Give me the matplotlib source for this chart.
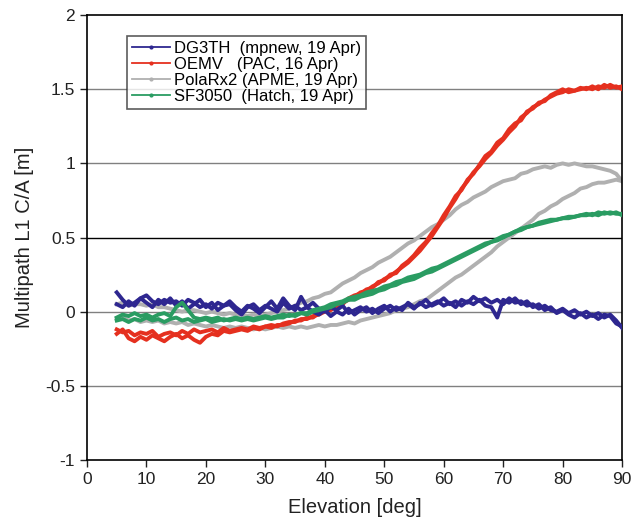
import numpy as np
import matplotlib.pyplot as plt
from matplotlib.lines import Line2D

plt.rcParams['font.family'] = ['Liberation Sans', 'DejaVu Sans']

elev = list(range(5, 91))

dg3th_a = [0.13, 0.08, 0.04, 0.06, 0.09, 0.11, 0.07, 0.05, 0.08, 0.06,
           0.07, 0.04, 0.08, 0.06, 0.03, 0.05, 0.02, 0.06, 0.04, 0.05,
           0.01, -0.02, 0.03, 0.05, 0.01, 0.04, 0.02, 0.00, 0.06, 0.02,
           0.04, 0.01, 0.03, 0.06, 0.02, 0.00, 0.03, 0.01, 0.04, -0.01,
           0.01, 0.03, 0.00, 0.02, -0.01, 0.02, 0.04, 0.01, 0.03, 0.05,
           0.02, 0.06, 0.03, 0.05, 0.07, 0.04, 0.06, 0.03, 0.08, 0.06,
           0.10, 0.07, 0.09, 0.06, 0.08, 0.05, 0.09, 0.06, 0.07, 0.04,
           0.05, 0.02, 0.04, 0.01, 0.00, 0.02, -0.01, 0.01, -0.02, 0.00,
           -0.03, -0.01, -0.04, -0.02, -0.06, -0.11]
dg3th_b = [0.05, 0.03, 0.07, 0.04, 0.09, 0.06, 0.03, 0.08, 0.05, 0.09,
           0.04, 0.07, 0.02, 0.05, 0.08, 0.03, 0.06, 0.01, 0.04, 0.07,
           0.03, 0.00, 0.04, 0.02, -0.01, 0.03, 0.07, 0.02, 0.09, 0.04,
           0.01, 0.10, 0.03, 0.00, -0.02, 0.01, -0.03, 0.00, -0.02, 0.02,
           -0.02, 0.01, 0.03, -0.01, 0.02, 0.04, 0.00, 0.03, 0.01, 0.06,
           0.03, 0.05, 0.08, 0.04, 0.06, 0.09, 0.05, 0.07, 0.04, 0.07,
           0.05, 0.08, 0.04, 0.03, -0.04, 0.08, 0.06, 0.09, 0.05, 0.07,
           0.03, 0.05, 0.01, 0.03, -0.01, 0.01, -0.02, -0.04, -0.01, -0.04,
           -0.02, -0.05, -0.02, -0.03, -0.08, -0.10]

oemv_a = [-0.12, -0.14, -0.13, -0.16, -0.14, -0.15, -0.13, -0.17, -0.15, -0.14,
          -0.16, -0.13, -0.15, -0.12, -0.14, -0.13, -0.12, -0.14, -0.11, -0.13,
          -0.12, -0.11, -0.12, -0.10, -0.11, -0.10, -0.09, -0.10, -0.08, -0.07,
          -0.07, -0.05, -0.05, -0.03, -0.02, 0.00, 0.02, 0.03, 0.06, 0.08,
          0.10, 0.13, 0.14, 0.17, 0.19, 0.22, 0.24, 0.27, 0.30, 0.33,
          0.37, 0.41, 0.46, 0.51, 0.57, 0.63, 0.70, 0.76, 0.83, 0.88,
          0.94, 0.98, 1.03, 1.07, 1.12, 1.16, 1.21, 1.25, 1.31, 1.34,
          1.38, 1.40, 1.43, 1.45, 1.47, 1.48, 1.50, 1.49, 1.50, 1.51,
          1.50, 1.52, 1.51, 1.53, 1.51, 1.52]
oemv_b = [-0.15, -0.12, -0.18, -0.20, -0.17, -0.19, -0.16, -0.18, -0.20, -0.17,
          -0.15, -0.18, -0.16, -0.19, -0.21, -0.17, -0.15, -0.16, -0.13, -0.14,
          -0.13, -0.12, -0.13, -0.11, -0.12, -0.10, -0.11, -0.09, -0.09, -0.08,
          -0.06, -0.06, -0.04, -0.04, -0.01, 0.01, 0.01, 0.04, 0.05, 0.09,
          0.11, 0.12, 0.15, 0.16, 0.20, 0.21, 0.25, 0.26, 0.31, 0.34,
          0.38, 0.43, 0.47, 0.53, 0.58, 0.65, 0.71, 0.78, 0.82, 0.89,
          0.93, 0.99, 1.05, 1.08, 1.14, 1.17, 1.23, 1.27, 1.29, 1.35,
          1.37, 1.41, 1.42, 1.46, 1.48, 1.50, 1.48, 1.49, 1.51, 1.50,
          1.52, 1.50, 1.53, 1.51, 1.52, 1.50]

polarx_a = [0.05, 0.06, 0.04, 0.05, 0.05, 0.04, 0.05, 0.03, 0.03, 0.02,
            0.01, 0.00, 0.01, 0.01, 0.00, -0.01, 0.00, -0.01, -0.02, -0.01,
            -0.02, -0.02, -0.03, -0.02, -0.03, -0.02, -0.01, 0.00, 0.01, 0.02,
            0.04, 0.06, 0.07, 0.09, 0.10, 0.12, 0.13, 0.16, 0.19, 0.21,
            0.23, 0.26, 0.28, 0.30, 0.33, 0.35, 0.37, 0.40, 0.43, 0.46,
            0.48, 0.51, 0.54, 0.57, 0.59, 0.62, 0.65, 0.69, 0.72, 0.74,
            0.77, 0.79, 0.81, 0.84, 0.86, 0.88, 0.89, 0.90, 0.93, 0.94,
            0.96, 0.97, 0.98, 0.97, 0.99, 1.00, 0.99, 1.00, 0.99, 0.98,
            0.98, 0.97, 0.96, 0.95, 0.93, 0.88]
polarx_b = [-0.05, -0.04, -0.06, -0.05, -0.07, -0.06, -0.07, -0.06, -0.08, -0.07,
            -0.08, -0.07, -0.09, -0.08, -0.09, -0.10, -0.09, -0.10, -0.11, -0.10,
            -0.11, -0.10, -0.11, -0.12, -0.11, -0.12, -0.11, -0.10, -0.11, -0.10,
            -0.11, -0.10, -0.11, -0.10, -0.09, -0.10, -0.09, -0.09, -0.08, -0.07,
            -0.08, -0.06, -0.05, -0.04, -0.03, -0.02, -0.01, 0.01, 0.02, 0.03,
            0.05, 0.07, 0.08, 0.11, 0.14, 0.17, 0.20, 0.23, 0.25, 0.28,
            0.31, 0.34, 0.37, 0.40, 0.44, 0.47, 0.50, 0.53, 0.56, 0.59,
            0.62, 0.66, 0.68, 0.71, 0.73, 0.76, 0.78, 0.80, 0.83, 0.84,
            0.86, 0.87, 0.87, 0.88, 0.89, 0.88]

sf3050_a = [-0.04, -0.02, -0.03, -0.01, -0.03, -0.02, -0.04, -0.02, -0.01, -0.03,
            0.03, 0.06, 0.01, -0.04, -0.05, -0.04, -0.05, -0.04, -0.06, -0.05,
            -0.04, -0.05, -0.04, -0.05, -0.04, -0.03, -0.04, -0.03, -0.02, -0.03,
            -0.02, -0.01, -0.02, 0.00, 0.01, 0.02, 0.03, 0.05, 0.06, 0.08,
            0.08, 0.10, 0.11, 0.12, 0.14, 0.15, 0.17, 0.18, 0.20, 0.21,
            0.22, 0.24, 0.26, 0.27, 0.29, 0.31, 0.33, 0.35, 0.37, 0.39,
            0.41, 0.43, 0.45, 0.47, 0.48, 0.50, 0.52, 0.54, 0.55, 0.57,
            0.58, 0.59, 0.60, 0.61, 0.62, 0.63, 0.63, 0.64, 0.65, 0.65,
            0.66, 0.65, 0.67, 0.66, 0.67, 0.65]
sf3050_b = [-0.06, -0.05, -0.07, -0.05, -0.06, -0.04, -0.06, -0.05, -0.07, -0.05,
            -0.04, -0.06, -0.05, -0.07, -0.06, -0.05, -0.07, -0.06, -0.05, -0.06,
            -0.05, -0.06, -0.05, -0.06, -0.05, -0.04, -0.05, -0.04, -0.04, -0.02,
            -0.03, -0.01, -0.01, 0.01, 0.02, 0.03, 0.05, 0.06, 0.07, 0.09,
            0.10, 0.11, 0.13, 0.14, 0.15, 0.17, 0.18, 0.20, 0.21, 0.23,
            0.24, 0.25, 0.27, 0.29, 0.30, 0.32, 0.34, 0.36, 0.38, 0.40,
            0.42, 0.44, 0.46, 0.47, 0.49, 0.51, 0.52, 0.54, 0.56, 0.57,
            0.58, 0.60, 0.61, 0.62, 0.62, 0.63, 0.64, 0.64, 0.65, 0.66,
            0.65, 0.67, 0.66, 0.67, 0.66, 0.66]

labels = ["DG3TH  (mpnew, 19 Apr)", "OEMV   (PAC, 16 Apr)",
          "PolaRx2 (APME, 19 Apr)", "SF3050  (Hatch, 19 Apr)"]
colors = ["#2e2790", "#e5301f", "#b0b0b0", "#2a9c62"]

fig = plt.figure(figsize=(6.42, 5.22), dpi=100)
ax = fig.add_axes([0.1355, 0.119, 0.8335, 0.852])

# gridlines
for yv in [-0.5, 0, 0.5, 1, 1.5]:
    ax.axhline(yv, color="black" if yv == 0.5 else "#808080", lw=1.0, zorder=1)

lw = 2.8
ax.plot(elev, polarx_a, color=colors[2], lw=lw, zorder=2)
ax.plot(elev, polarx_b, color=colors[2], lw=lw, zorder=2)
ax.plot(elev, oemv_a, color=colors[1], lw=lw, zorder=3)
ax.plot(elev, oemv_b, color=colors[1], lw=lw, zorder=3)
ax.plot(elev, dg3th_a, color=colors[0], lw=lw, zorder=4)
ax.plot(elev, dg3th_b, color=colors[0], lw=lw, zorder=4)
ax.plot(elev, sf3050_a, color=colors[3], lw=lw, zorder=5)
ax.plot(elev, sf3050_b, color=colors[3], lw=lw, zorder=5)

ax.set_xlim(0, 90)
ax.set_ylim(-1, 2)
ax.set_xticks(range(0, 91, 10))
ax.set_yticks([-1, -0.5, 0, 0.5, 1, 1.5, 2])
ax.set_yticklabels(["-1", "-0.5", "0", "0.5", "1", "1.5", "2"])
ax.tick_params(direction="out", length=5, width=1, labelsize=12.5, colors="#222222")
ax.tick_params(top=False, right=False)
for s in ax.spines.values():
    s.set_linewidth(1.2)
ax.set_xlabel("Elevation [deg]", fontsize=14.5, color="#222222", labelpad=8)
ax.set_ylabel("Multipath L1 C/A [m]", fontsize=14.5, color="#222222", labelpad=8)

handles = [Line2D([], [], color=c, lw=1.3, marker="o", markersize=2) for c in colors]
leg = ax.legend(handles, labels, loc="upper left", bbox_to_anchor=(0.075, 0.953),
                fontsize=12, frameon=True, fancybox=False, edgecolor="#333333",
                handlelength=2.3, handletextpad=0.2, borderpad=0.3, labelspacing=0.05,
                borderaxespad=0)
leg.get_frame().set_linewidth(1.2)
leg.set_zorder(10)

fig.savefig("out.png", dpi=100)
